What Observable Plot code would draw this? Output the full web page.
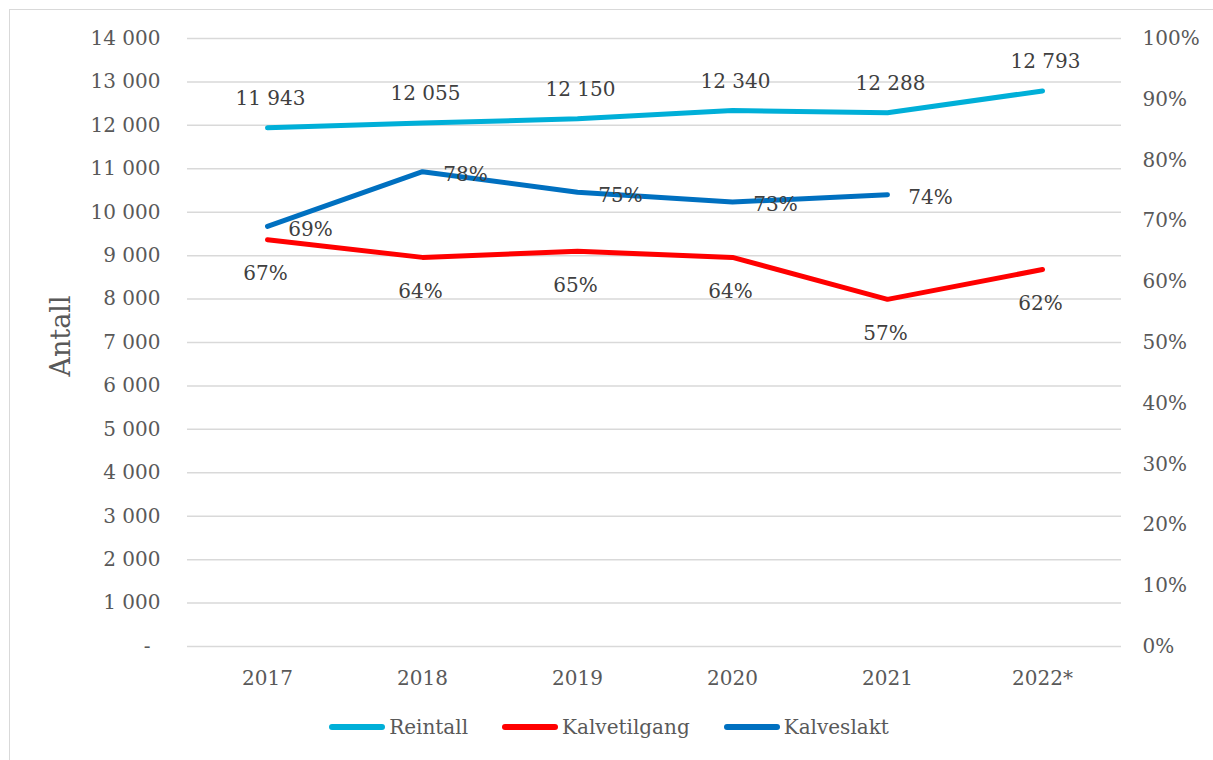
<!DOCTYPE html>
<html>
<head>
<meta charset="utf-8">
<script src="https://cdn.jsdelivr.net/npm/d3@7"></script>
<script src="https://cdn.jsdelivr.net/npm/@observablehq/plot@0.6"></script>
<style>
  html, body { margin: 0; padding: 0; background: #fff; }
  body { width: 1213px; height: 760px; position: relative; overflow: hidden; font-family: "DejaVu Serif", serif; }
  #frame { position: absolute; left: 9px; top: 9px; width: 1400px; height: 900px; border-left: 1.5px solid #d9d9d9; border-top: 1.5px solid #d9d9d9; }
  #chart { position: absolute; left: 0; top: 0; }
  #ylabel { position: absolute; left: 60px; top: 336px; transform: translate(-50%, -50%) rotate(-90deg); font-size: 27px; color: #595959; white-space: nowrap; }
  #legend { position: absolute; left: 0; width: 1218px; top: 715px; display: flex; justify-content: center; gap: 34px; font-size: 20px; color: #595959; }
  .item { display: flex; align-items: center; gap: 4px; }
  .sw { width: 56px; height: 6px; border-radius: 3px; }
</style>
</head>
<body>
<div id="frame"></div>
<div id="chart"></div>
<div id="ylabel">Antall</div>
<div id="legend"></div>
<script>
const years = ["2017", "2018", "2019", "2020", "2021", "2022*"];
const reintall = [11943, 12055, 12150, 12340, 12288, 12793];
const kalvetilgang = [66.9, 64.0, 65.0, 64.0, 57.1, 62.0];
const kalveslakt = [69.1, 78.1, 74.7, 73.1, 74.3, null];
const seriesNames = ["Reintall", "Kalvetilgang", "Kalveslakt"];
const seriesColors = ["#00afd8", "#ff0000", "#0070c0"];
const leftTicks = d3.range(0, 14001, 1000);
const rightTicks = d3.range(0, 101, 10);

const pctToLeft = 14000 / 100;
const fmtNum = d => d === 0 ? "-\u2002" : d3.format(",")(d).replace(/,/g, " ");

const rein = years.map((y, i) => ({year: y, v: reintall[i], label: fmtNum(reintall[i])}));
const tilg = years.map((y, i) => ({year: y, v: kalvetilgang[i] * pctToLeft, label: Math.round(kalvetilgang[i]) + "%"}));
const slakt = years.map((y, i) => ({year: y, v: kalveslakt[i] == null ? null : kalveslakt[i] * pctToLeft, label: kalveslakt[i] == null ? "" : Math.round(kalveslakt[i]) + "%"})).filter(d => d.v != null);

const lineOpts = {strokeWidth: 5, strokeLinecap: "round", strokeLinejoin: "round"};
const labelOpts = {fontSize: 20, fill: "#404040"};

const plot = Plot.plot({
  width: 1213,
  height: 700,
  marginTop: 38,
  marginBottom: 54,
  marginLeft: 187,
  marginRight: 92,
  style: {fontFamily: "DejaVu Serif, serif", fontSize: "20px", color: "#595959", background: "transparent", overflow: "visible"},
  x: {type: "point", domain: years, padding: 0.5},
  y: {domain: [0, 14000]},
  marks: [
    Plot.gridY(leftTicks, {stroke: "#d9d9d9", strokeOpacity: 1, strokeWidth: 1.5}),
    Plot.axisY(leftTicks, {anchor: "left", tickSize: 0, tickPadding: 27, tickFormat: fmtNum, label: null, fontSize: 20}),
    Plot.axisY(rightTicks.map(p => p * pctToLeft), {anchor: "right", tickSize: 0, tickPadding: 21, tickFormat: d => Math.round(d / pctToLeft) + "%", label: null, fontSize: 20}),
    Plot.axisX({tickSize: 0, tickPadding: 24, label: null, fontSize: 20}),
    Plot.line(rein, {x: "year", y: "v", stroke: seriesColors[0], ...lineOpts}),
    Plot.line(tilg, {x: "year", y: "v", stroke: seriesColors[1], ...lineOpts}),
    Plot.line(slakt, {x: "year", y: "v", stroke: seriesColors[2], ...lineOpts}),
    Plot.text(rein, {x: "year", y: "v", text: "label", dy: -29, dx: 3, ...labelOpts}),
    Plot.text(tilg, {x: "year", y: "v", text: "label", dy: 34, dx: -2, ...labelOpts}),
    Plot.text(slakt, {x: "year", y: "v", text: "label", dy: 3, dx: 43, ...labelOpts})
  ]
});
document.getElementById("chart").appendChild(plot);

const legend = document.getElementById("legend");
seriesNames.forEach((name, i) => {
  const item = document.createElement("div");
  item.className = "item";
  const sw = document.createElement("div");
  sw.className = "sw";
  sw.style.background = seriesColors[i];
  const t = document.createElement("span");
  t.textContent = name;
  item.appendChild(sw);
  item.appendChild(t);
  legend.appendChild(item);
});
</script>
</body>
</html>
